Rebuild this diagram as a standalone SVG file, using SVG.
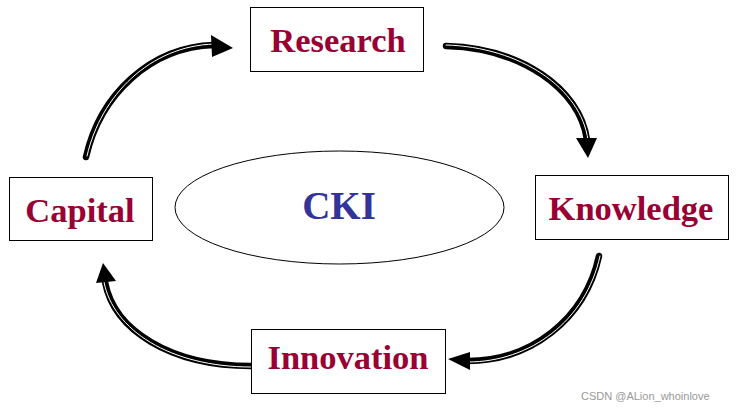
<svg xmlns="http://www.w3.org/2000/svg" width="736" height="408" viewBox="0 0 736 408">
<style>
.box{fill:#fff;stroke:#000;stroke-width:1}
.lbl{font-family:"Liberation Serif","Times New Roman",serif;font-weight:bold;font-size:34.5px;fill:#990033;text-anchor:middle}
.cki{font-family:"Liberation Serif","Times New Roman",serif;font-weight:bold;font-size:39px;fill:#333399;text-anchor:middle}
.outer{fill:none;stroke:#000;stroke-width:6.5;stroke-linecap:round}
.inner{fill:none;stroke:#fff;stroke-width:1;stroke-linecap:round}
.head{fill:#000}
.wm{font-family:"Liberation Sans",Arial,sans-serif;font-size:11px;fill:#999}
</style>
<rect width="736" height="408" fill="#fff"/>
<g id="connectors">
<g id="c1">
<path class="outer" d="M86,157 C100,95 150,47 214,45"/>
<path class="inner" d="M87,156 C101,95 150,46 214,44"/>
<polygon class="head" points="211,35 233,48 212,57"/>
</g>
<g id="c2">
<path class="outer" d="M446,46 C520,48 580,88 587,140"/>
<path class="inner" d="M446,45 C520,47 581,88 588,140"/>
<polygon class="head" points="576,138 597,138 588,158"/>
</g>
<g id="c3">
<path class="outer" d="M599,256 C585,320 530,361 468,361"/>
<path class="inner" d="M600,256 C586,321 530,362 468,362"/>
<polygon class="head" points="470,352 448,359 470,370"/>
</g>
<g id="c4">
<path class="outer" d="M251,366 C170,366 114,330 105,282"/>
<path class="inner" d="M251,367 C170,367 113,330 104,282"/>
<polygon class="head" points="96,283 103,263 116,281"/>
</g>
</g>
<g id="research">
<rect class="box" x="250.5" y="7.5" width="173" height="64"/>
<text class="lbl" x="338" y="52">Research</text>
</g>
<g id="knowledge">
<rect class="box" x="535.5" y="175.5" width="193" height="64"/>
<text class="lbl" x="631" y="220">Knowledge</text>
</g>
<g id="innovation">
<rect class="box" x="251.5" y="329.5" width="194" height="64"/>
<text class="lbl" x="348" y="369">Innovation</text>
</g>
<g id="capital">
<rect class="box" x="9.5" y="177.5" width="143" height="63"/>
<text class="lbl" x="80" y="222">Capital</text>
</g>
<g id="cki">
<ellipse cx="339.5" cy="207.5" rx="164.5" ry="56.5" fill="none" stroke="#000" stroke-width="1"/>
<text class="cki" x="339" y="219">CKI</text>
</g>
<text class="wm" x="581" y="400">CSDN @ALion_whoinlove</text>
</svg>
